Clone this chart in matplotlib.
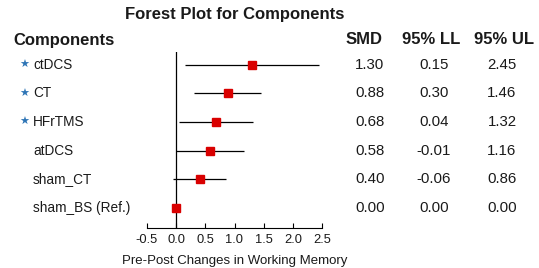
import matplotlib
matplotlib.use("Agg")
import matplotlib.pyplot as plt
from matplotlib.transforms import blended_transform_factory

# ---------------------------------------------------------------------------
# Data
# ---------------------------------------------------------------------------
components = ["ctDCS", "CT", "HFrTMS", "atDCS", "sham_CT", "sham_BS (Ref.)"]
starred    = [True, True, True, False, False, False]
smd        = [1.30, 0.88, 0.68, 0.58, 0.40, 0.00]
lower      = [0.15, 0.30, 0.04, -0.01, -0.06, 0.00]
upper      = [2.45, 1.46, 1.32, 1.16, 0.86, 0.00]
xticks     = [-0.5, 0.0, 0.5, 1.0, 1.5, 2.0, 2.5]

plt.rcParams["font.family"] = ["Liberation Sans", "DejaVu Sans"]
TXT = "#1a1a1a"
W, H = 539, 268

fig = plt.figure(figsize=(W / 100, H / 100), dpi=100)
# axes placed in pixel units: x from 147 to 322, y from 52 to 228
ax = fig.add_axes([147 / W, 1 - 228 / H, 175 / W, 176 / H])

rows = list(range(len(components)))
ax.hlines(rows, lower, upper, color="black", linewidth=0.9, zorder=2)
ax.plot(smd, rows, "s", color="#d90000", markersize=6, zorder=3)
ax.axvline(0, color="black", linewidth=0.9, zorder=1)

ax.set_xlim(-0.5, 2.5)
ax.set_ylim(5.70, -0.45)
ax.set_xticks(xticks)
ax.set_xticklabels([f"{t:.1f}" for t in xticks], fontsize=9.3, color=TXT)
ax.tick_params(axis="x", direction="in", length=3.5, width=0.8, pad=4)
ax.set_yticks([])
for s in ["left", "top", "right"]:
    ax.spines[s].set_visible(False)
ax.spines["bottom"].set_linewidth(0.8)
ax.set_xlabel("Pre-Post Changes in Working Memory", fontsize=9.5, color=TXT, labelpad=7)

# text columns: x in figure fraction, y in data rows
tr = blended_transform_factory(fig.transFigure, ax.transData)
for i, name in enumerate(components):
    if starred[i]:
        ax.text(24 / W, i, "\u2605", transform=tr, ha="center", va="center",
                fontsize=8, color="#2e75b6", family="DejaVu Sans")
    ax.text(33 / W, i, name, transform=tr, ha="left", va="center",
            fontsize=9.8, color=TXT)
    ax.text(370 / W, i, f"{smd[i]:.2f}", transform=tr, ha="center", va="center",
            fontsize=10.8, color=TXT)
    ax.text(434 / W, i, f"{lower[i]:.2f}", transform=tr, ha="center", va="center",
            fontsize=10.8, color=TXT)
    ax.text(502 / W, i, f"{upper[i]:.2f}", transform=tr, ha="center", va="center",
            fontsize=10.8, color=TXT)

# headers
fig.text(235 / W, 1 - 14 / H, "Forest Plot for Components", ha="center", va="center",
         fontsize=12, fontweight="bold", color=TXT)
fig.text(13 / W, 1 - 40 / H, "Components", ha="left", va="center",
         fontsize=12, fontweight="bold", color=TXT)
for xp, lab in [(364, "SMD"), (431, "95% LL"), (504, "95% UL")]:
    fig.text(xp / W, 1 - 40 / H, lab, ha="center", va="center",
             fontsize=12, fontweight="bold", color=TXT)

fig.savefig("out.png", dpi=100)
